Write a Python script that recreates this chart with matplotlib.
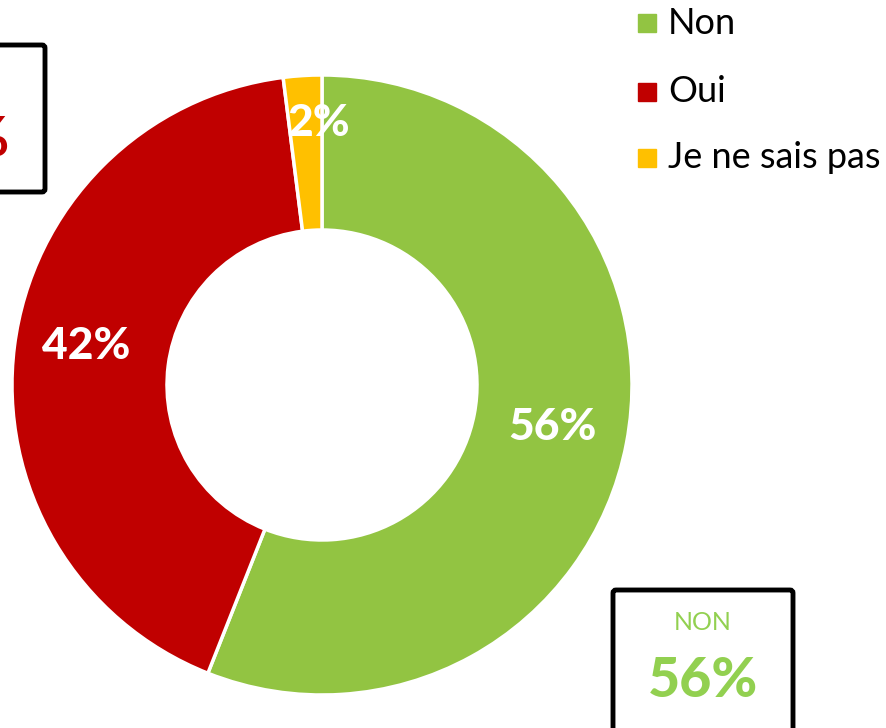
import matplotlib
matplotlib.use("Agg")
import matplotlib.pyplot as plt
from matplotlib.patches import FancyBboxPatch

categories = ["Non", "Oui", "Je ne sais pas"]
values = [56, 42, 2]
colors = ["#92C442", "#C00000", "#FFC000"]

W, H = 887, 728
fig = plt.figure(figsize=(W / 100, H / 100), dpi=100)
ax = fig.add_axes([0, 0, 1, 1])

FONT = ["Lato", "DejaVu Sans"]

cx, cy = 322, H - 385
R = 310
wedges, texts, autotexts = ax.pie(
    values, colors=colors, startangle=90, counterclock=False,
    center=(cx, cy), radius=R, frame=True,
    wedgeprops=dict(width=155, edgecolor="white", linewidth=2.5),
    autopct=lambda p: f"{p:.0f}%", pctdistance=0.75,
    textprops=dict(color="white", fontsize=32, fontweight="black", family=FONT),
)
ax.set_xlim(0, W)
ax.set_ylim(0, H)
ax.set_aspect("equal")
ax.axis("off")
# nudge labels toward reference placement
x, y = autotexts[2].get_position()
autotexts[2].set_position((x + 11, y + 30))
x, y = autotexts[1].get_position()
autotexts[1].set_position((x - 5, y + 10))
x, y = autotexts[0].get_position()
autotexts[0].set_position((x + 2, y + 2))

# legend
leg_y = [23, 92, 158]
for c, lab, yy in zip(colors, categories, leg_y):
    ax.add_patch(plt.Rectangle((638, H - yy - 9), 18, 18, color=c, clip_on=False))
    ax.text(668, H - yy, lab, fontsize=26, va="center", ha="left", family=FONT, color="black")

# boxes
ax.add_patch(FancyBboxPatch((613, H - 737), 180, 147, boxstyle="round,pad=0,rounding_size=3",
                            fill=False, edgecolor="black", linewidth=3.5, clip_on=False))
ax.text(703, H - 623, "NON", fontsize=18, color="#92D050", ha="center", va="center", family=FONT)
ax.text(703, H - 681, f"{values[0]}%", fontsize=40, fontweight="black", color="#92D050",
        ha="center", va="center", family=FONT)

ax.add_patch(FancyBboxPatch((-135, H - 192), 180, 147, boxstyle="round,pad=0,rounding_size=3",
                            fill=False, edgecolor="black", linewidth=3.5, clip_on=False))
ax.text(-45, H - 78, "OUI", fontsize=18, color="#C00000", ha="center", va="center", family=FONT, clip_on=False)
ax.text(-45, H - 140, f"{values[1]}%", fontsize=40, fontweight="black", color="#C00000",
        ha="center", va="center", family=FONT, clip_on=False)

fig.savefig("out.png", dpi=100)
